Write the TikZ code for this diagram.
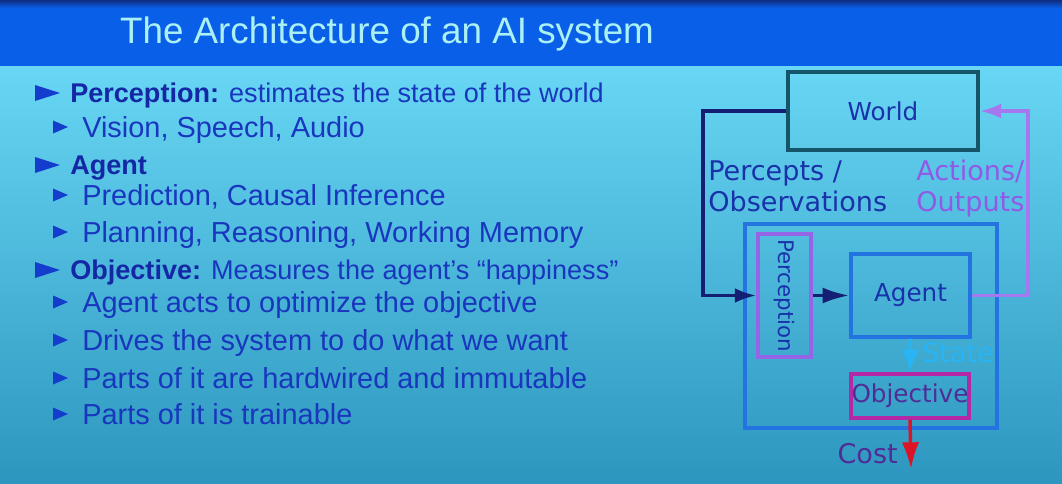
\documentclass[tikz,border=0pt]{standalone}
\usepackage{fontspec}
\setmainfont{Liberation Sans}
\newfontfamily\dv{DejaVu Sans}
\usetikzlibrary{arrows.meta}
\definecolor{bgtop}{RGB}{105,215,245}
\definecolor{bgbot}{RGB}{45,150,190}
\definecolor{titlebar}{RGB}{10,95,232}
\definecolor{titletop}{RGB}{15,45,130}
\definecolor{titletext}{RGB}{170,240,245}
\definecolor{bodytext}{RGB}{25,55,190}
\definecolor{boldtext}{RGB}{20,40,165}
\definecolor{bullet}{RGB}{20,60,205}
\definecolor{navy}{RGB}{20,30,115}
\definecolor{dtext}{RGB}{25,50,170}
\definecolor{purp}{RGB}{165,120,240}
\definecolor{purptext}{RGB}{145,90,230}
\definecolor{boxblue}{RGB}{35,115,225}
\definecolor{worldb}{RGB}{20,85,105}
\definecolor{percb}{RGB}{150,100,230}
\definecolor{objb}{RGB}{180,40,165}
\definecolor{objtext}{RGB}{80,45,150}
\definecolor{statec}{RGB}{40,180,245}
\definecolor{redc}{RGB}{220,20,40}
\tikzset{
  lvla/.style={anchor=base west, inner sep=0pt, text=bodytext, font=\fontsize{20.3}{24}\selectfont},
  lvlb/.style={anchor=base west, inner sep=0pt, text=bodytext, font=\fontsize{21.7}{25}\selectfont},
  blk/.style={draw, line width=2.6pt, inner sep=0pt, text=dtext, font=\dv\fontsize{18.5}{22}\selectfont},
  lbl/.style={inner sep=0pt, font=\dv\fontsize{20.3}{24}\selectfont},
  wire/.style={line width=2.6pt},
}
\begin{document}
\begin{tikzpicture}[x=0.75pt,y=-0.75pt]
\useasboundingbox (0,0) rectangle (1062,483);
% background
\shade[top color=bgtop, bottom color=bgbot] (0,60) rectangle (1062,483);
\fill[titlebar] (0,0) rectangle (1062,66);
\shade[top color=titletop, bottom color=titlebar] (0,0) rectangle (1062,8);
\node[anchor=base, inner sep=0pt, text=titletext, font=\fontsize{27.6}{30}\selectfont] (title) at (387,43) {The Architecture of an AI system};
% bullets
\foreach \yy in {93,165,270} {
  \fill[bullet] (35,\yy-8) -- (60,\yy) -- (35,\yy+8) -- cycle;
}
\foreach \yy in {127,195,232,302,340,378,414} {
  \fill[bullet] (53,\yy-6.5) -- (68,\yy) -- (53,\yy+6.5) -- cycle;
}
\node[lvla] (t1) at (70,102) {\textcolor{boldtext}{\bfseries Perception:} estimates the state of the world};
\node[lvlb] (t2) at (82,137) {Vision, Speech, Audio};
\node[lvla] (t3) at (70,174) {\textcolor{boldtext}{\bfseries Agent}};
\node[lvlb] (t4) at (82,205) {Prediction, Causal Inference};
\node[lvlb] (t5) at (82,242) {Planning, Reasoning, Working Memory};
\node[lvla] (t6) at (70,279) {\textcolor{boldtext}{\bfseries Objective:} Measures the agent’s “happiness”};
\node[lvlb] (t7) at (82,312) {Agent acts to optimize the objective};
\node[lvlb] (t8) at (82,350) {Drives the system to do what we want};
\node[lvlb] (t9) at (82,388) {Parts of it are hardwired and immutable};
\node[lvlb] (t10) at (82,424) {Parts of it is trainable};
% diagram boxes
\node[blk, draw=worldb, minimum width=142.5pt, minimum height=58.5pt] (World) at (883,111) {World};
\node[draw=boxblue, line width=2.6pt, minimum width=189pt, minimum height=153pt, inner sep=0pt] (Outer) at (871,326) {};
\node[blk, draw=percb, minimum width=39.75pt, minimum height=92.25pt, font=\dv\fontsize{16}{18}\selectfont] (Perception) at (784.5,295.5) {\rotatebox{-90}{Perception}};
\node[blk, draw=boxblue, minimum width=89.25pt, minimum height=62.25pt] (Agent) at (910.5,295.5) {Agent};
\node[blk, draw=objb, text=objtext, minimum width=88.5pt, minimum height=33pt] (Objective) at (910,396) {Objective};
% labels
\node[lbl, anchor=base west, text=dtext] (lp1) at (708,180) {Percepts /};
\node[lbl, anchor=base west, text=dtext] (lp2) at (708,211) {Observations};
\node[lbl, anchor=base west, text=purptext] (la1) at (916,180) {Actions/};
\node[lbl, anchor=base west, text=purptext] (la2) at (916,211) {Outputs};
\node[lbl, anchor=base west, text=statec] (lstate) at (922,362) {State};
\node[lbl, anchor=base east, text=objtext] (lcost) at (898,463) {Cost};
% connectors
\coordinate (cL) at (703,200);
\coordinate (cR) at (1028,200);
\coordinate (costend) at (911,469);
\draw[navy, wire, -{Latex[length=16pt,width=11pt]}] (World.west) -| (cL) |- (Perception.west);
\draw[navy, wire, -{Latex[length=20pt,width=12pt]}] (Perception.east) -- (Agent.west);
\draw[purp, wire, -{Latex[length=16pt,width=11pt]}] (Agent.east) -| (cR) |- (World.east);
\draw[statec, wire, -{Latex[length=17pt,width=13pt]}] (Agent.south) -- (Objective.north);
\draw[redc, wire, -{Latex[length=20pt,width=13pt]}] (Objective.south) -- (costend);
\end{tikzpicture}
\end{document}
